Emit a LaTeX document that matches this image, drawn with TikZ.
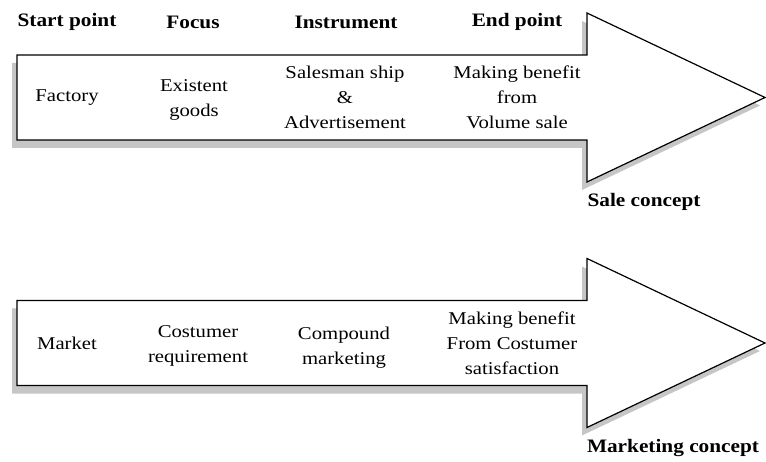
\documentclass[tikz,border=0pt]{standalone}
\usepackage{fontspec}
\setmainfont{Liberation Serif}
\begin{document}
\begin{tikzpicture} [x=1pt, y=-1pt, line join=miter, line cap=butt,
	txt/.style={font=\fontsize{18}{25}\selectfont, align=center, xscale=1.15, inner sep=0pt},
	hd/.style={font=\fontsize{19}{23}\selectfont\bfseries, xscale=1.12, inner sep=0pt}]
		\useasboundingbox (0,0) rectangle (766,462);
		\def \ax{587} \def \tx{765}
		% the two big arrows, shadow first
		\foreach \yo in {0,245.5} {
		\fill [gray!45, shift={(-5,\yo+8)}] (17,55)--(\ax,55)--(\ax,13)--(\tx,97.5)--(\ax,182)--(\ax,140)--(17,140)--cycle;
		\draw [line width=1.2pt, fill=white, shift={(0,\yo)}] (17,55)--(\ax,55)--(\ax,13)--(\tx,97.5)--(\ax,182)--(\ax,140)--(17,140)--cycle;
		}
		% column heads
		\foreach \x/\t/\n in {67/Start point/start, 193/Focus/focus, 346/Instrument/instr, 517/End point/endp}
		\node [hd] (\n) at (\x,22) {\t};
		% sale concept
		\node [txt] (factory) at (67,98) {Factory};
		\node [txt] (goods) at (194,100) {Existent\\goods};
		\node [txt] (salesman) at (345,97) {Salesman ship\\\&\\Advertisement};
		\node [txt] (volume) at (517,97) {Making benefit\\from\\Volume sale};
		\node [hd] (sale) at (644,202) {Sale concept};
		% marketing concept
		\node [txt] (market) at (67,343) {Market};
		\node [txt] (need) at (198,346) {Costumer\\requirement};
		\node [txt] (mix) at (344,348) {Compound\\marketing};
		\node [txt] (satis) at (512,343) {Making benefit\\From Costumer\\satisfaction};
		\node [hd] (marketing) at (673,448) {Marketing concept};
		\end{tikzpicture}
\end{document}
